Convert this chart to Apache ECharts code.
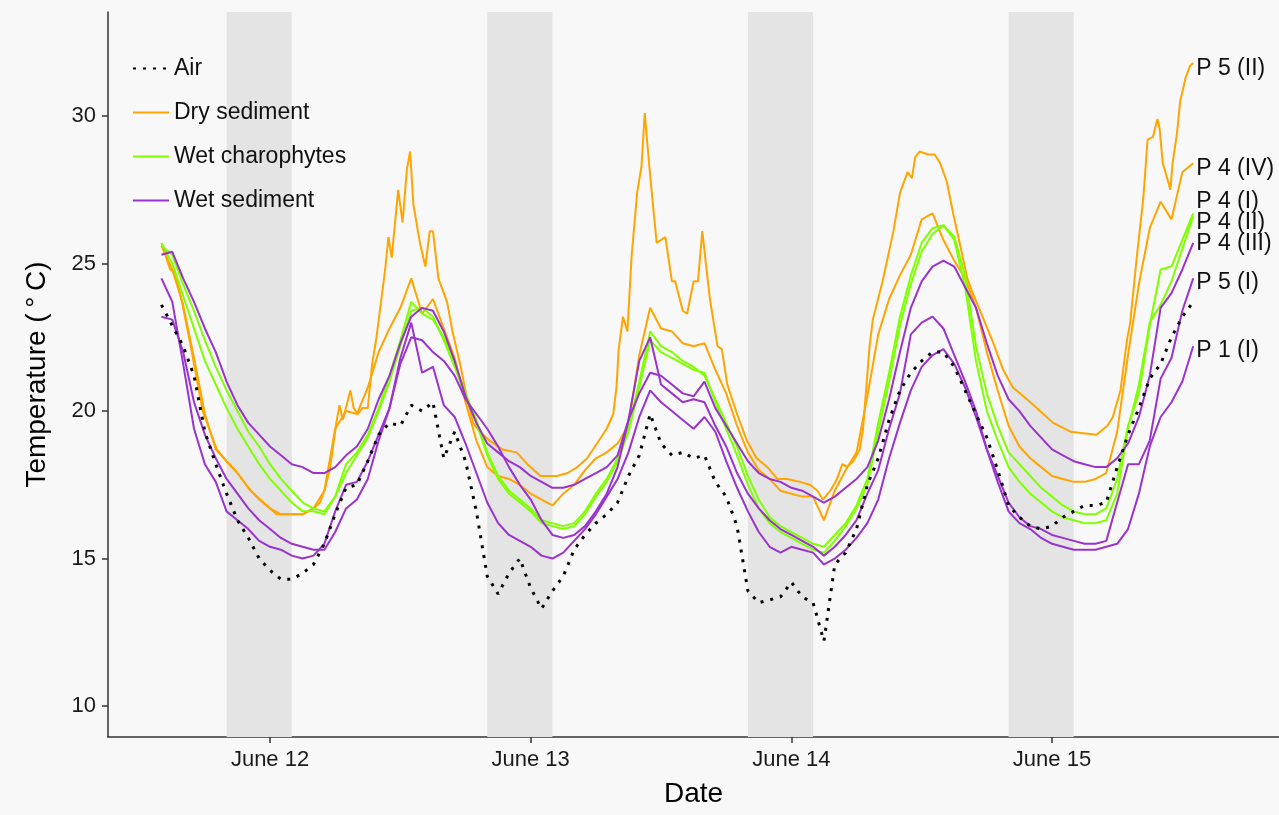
<!DOCTYPE html>
<html>
<head>
<meta charset="utf-8">
<title>Temperature</title>
<script src="https://cdn.jsdelivr.net/npm/echarts@6/dist/echarts.min.js"></script>
<style>
html, body { margin: 0; padding: 0; background: #f8f8f8; }
#chart { width: 1279px; height: 815px; }
</style>
</head>
<body>
<div id="chart"></div>
<script>
// x is in hours counted from June 11 00:00
// loggers start June 11 14:00, one reading per hour
var startHour = 14;
var dayTicks = [24, 48, 72, 96];
var dayLabels = ['June 12', 'June 13', 'June 14', 'June 15'];
var tempTicks = [10, 15, 20, 25, 30];
var nights = [[20, 26], [44, 50], [68, 74], [92, 98]];

var air = [23.6,22.9,22.2,21.2,19.3,18.2,17.2,16.3,15.7,15.0,
	14.6,14.3,14.3,14.5,14.8,15.5,16.5,17.4,17.5,18.3,
	19.2,19.6,19.5,20.2,20.0,20.3,18.4,19.3,18.3,16.6,
	14.4,13.8,14.5,15.0,14.0,13.3,13.9,14.4,15.3,15.8,
	16.2,16.5,16.9,17.8,18.5,19.9,18.9,18.5,18.6,18.4,
	18.5,17.6,17.1,16.1,13.9,13.5,13.6,13.7,14.2,13.7,
	13.5,12.2,14.8,15.2,16.0,17.5,18.4,19.7,20.7,21.3,
	21.7,22.0,22.0,21.5,20.7,19.9,19.1,18.0,16.8,16.4,
	16.1,16.0,16.1,16.4,16.6,16.8,16.8,16.9,18.1,19.2,
	20.1,21.1,21.6,22.5,23.2,23.7];

// P 5 (II) is spiky, so it keeps its own reading times (hours after June 11 14:00)
var p5IIHours = [0,0.8,1.25,1.9,2.8,3.8,4.5,5.1,6,7,
	8.2,9.4,10.6,13,14,14.6,15,15.5,16.1,16.4,
	16.7,17.4,17.7,18.1,18.5,19,19.4,19.8,20.6,20.9,
	21.2,21.8,22.2,22.6,22.9,23.2,23.8,24.3,24.7,25,
	25.5,26.3,26.8,27.5,28.1,28.7,29.3,30.2,31.4,32.7,
	33.7,34.9,36.4,37.4,38.3,39.2,40.1,41,41.6,41.9,
	42.1,42.5,42.9,43.3,43.8,44.2,44.5,44.8,45.2,45.6,
	46.4,47,47.3,48,48.4,49,49.4,49.8,50.1,50.5,
	51.2,51.6,52.1,53,53.9,54.8,55.8,56.7,57.6,58.8,
	59.7,60.4,60.9,61.6,62.2,62.7,63.1,63.7,64.3,64.6,
	65.2,65.5,66.4,67.4,68,68.7,69.1,69.4,69.8,70.6,
	71.2,71.7,72.3,72.9,73.5,74.2,74.7,75.6,76.6,77.5,
	78.4,79.7,80.9,82.1,83.7,86.1,87.1,87.6,88.3,88.9,
	89.2,89.8,90.4,90.8,91.3,91.7,91.9,92.2,92.6,92.9,
	93.1,93.5,93.8,94.3,94.7,95];
var p5II = [25.7,24.8,24.7,23.7,22.0,20.0,19.3,18.7,18.3,17.9,
	17.3,16.9,16.5,16.5,16.7,16.9,17.3,18.0,19.6,20.2,
	19.7,20.7,20.1,19.9,20.1,20.1,21.6,22.5,24.8,25.9,
	25.2,27.5,26.4,28.2,28.8,27.0,25.7,24.9,26.1,26.1,
	24.5,23.7,22.7,21.6,20.5,19.6,19.3,19.0,18.7,18.6,
	18.2,17.8,17.8,17.9,18.1,18.4,18.9,19.4,19.9,20.8,
	22.1,23.2,22.7,25.3,27.4,28.3,30.1,28.8,27.2,25.7,
	25.9,24.4,24.4,23.4,23.3,24.4,24.4,26.1,25.1,23.8,
	22.2,22.1,20.9,19.9,19.0,18.4,18.1,17.7,17.7,17.6,
	17.5,17.3,17.0,17.3,17.7,18.2,18.1,18.3,18.7,19.4,
	22.2,23.1,24.4,26.1,27.4,28.1,27.9,28.6,28.8,28.7,
	28.7,28.4,27.8,26.7,25.7,24.5,24.0,23.2,22.3,21.4,
	20.8,20.4,20.0,19.6,19.3,19.2,19.5,19.8,20.7,22.4,
	23.0,25.2,27.2,29.2,29.3,29.9,29.6,28.4,27.9,27.5,
	28.4,29.4,30.5,31.3,31.7,31.8];

var p4IV = [25.6,24.8,23.6,21.8,19.9,18.7,18.3,17.9,17.4,17.0,
	16.7,16.5,16.5,16.5,16.7,17.3,19.4,20.0,19.9,20.8,
	22.0,22.8,23.5,24.5,23.3,23.8,22.8,21.8,20.3,19.0,
	18.1,17.8,17.7,17.5,17.2,17.0,16.8,17.2,17.5,18.0,
	18.4,18.6,18.9,19.5,21.9,23.5,22.8,22.7,22.3,22.2,
	22.3,21.4,20.6,19.5,18.6,18.0,17.7,17.3,17.2,17.1,
	17.1,16.3,17.3,18.0,18.6,20.5,22.6,23.8,24.6,25.3,
	26.5,26.7,25.8,25.1,24.5,23.5,22.0,20.7,19.5,18.8,
	18.4,18.1,17.8,17.7,17.6,17.6,17.7,17.9,19.3,21.9,
	24.3,26.2,27.1,26.5,28.1,28.4];

var p4I = [25.6,25.3,24.3,23.4,22.4,21.5,20.7,20.0,19.3,18.8,
	18.2,17.7,17.3,16.9,16.7,16.6,17.1,18.2,18.6,19.2,
	20.1,21.2,22.4,23.7,23.3,23.1,22.5,21.6,20.6,19.7,
	18.6,17.8,17.3,17.0,16.7,16.3,16.2,16.1,16.2,16.6,
	17.2,17.7,18.4,19.4,21.0,22.7,22.2,22.0,21.7,21.5,
	21.2,20.4,19.6,18.8,17.8,17.0,16.4,16.1,15.9,15.7,
	15.5,15.4,15.8,16.2,16.8,17.7,19.6,21.3,23.2,24.6,
	25.7,26.2,26.3,25.9,24.6,22.2,20.6,19.5,18.6,18.2,
	17.8,17.4,17.1,16.8,16.6,16.5,16.5,16.7,17.7,19.5,
	20.6,22.9,24.8,24.9,25.8,26.7];

var p4II = [25.7,25.0,23.9,22.8,21.7,20.9,20.1,19.4,18.8,18.2,
	17.7,17.3,16.9,16.6,16.6,16.5,17.1,17.9,18.5,19.1,
	20.0,21.0,22.2,23.4,23.5,23.2,22.4,21.5,20.5,19.6,
	18.5,17.7,17.2,16.9,16.6,16.2,16.1,16.0,16.1,16.5,
	17.1,17.6,18.3,19.3,20.8,22.4,22.0,21.8,21.6,21.4,
	21.3,20.3,19.4,18.5,17.5,16.7,16.2,15.9,15.7,15.5,
	15.3,15.2,15.6,16.1,16.7,17.5,19.3,21.0,22.9,24.3,
	25.4,26.0,26.3,25.8,24.2,21.7,20.0,19.0,18.1,17.6,
	17.2,16.9,16.6,16.4,16.3,16.2,16.2,16.3,17.2,19.4,
	20.9,23.0,23.6,24.4,25.5,26.6];

var p4III = [25.3,25.4,24.5,23.7,22.8,22.0,21.0,20.2,19.6,19.2,
	18.8,18.5,18.2,18.1,17.9,17.9,18.1,18.5,18.8,19.4,
	20.4,21.2,22.3,23.2,23.5,23.4,22.7,21.7,20.5,19.6,
	18.9,18.6,18.3,18.1,17.8,17.6,17.4,17.4,17.5,17.7,
	17.9,18.1,18.5,19.7,20.6,21.3,21.2,20.9,20.6,20.5,
	21.0,20.1,19.5,18.9,18.3,17.9,17.7,17.6,17.4,17.3,
	17.1,16.9,17.1,17.4,17.7,18.1,19.0,20.4,22.0,23.5,
	24.4,24.9,25.1,24.9,24.2,23.5,22.3,21.2,20.4,20.0,
	19.5,19.1,18.7,18.5,18.3,18.2,18.1,18.1,18.4,18.9,
	19.8,21.2,23.5,24.0,24.8,25.7];

var p5I = [23.2,23.1,22.0,20.3,19.2,18.4,17.7,17.2,16.7,16.3,
	16.0,15.7,15.5,15.4,15.3,15.3,15.9,16.7,17.0,17.7,
	19.0,20.1,21.6,22.5,22.4,22.0,21.7,21.2,20.4,19.9,
	19.4,18.8,18.1,17.5,17.0,16.3,15.8,15.7,15.8,16.1,
	16.6,17.2,18.1,19.7,21.7,22.5,20.9,20.6,20.3,20.4,
	20.3,19.5,18.8,17.9,17.2,16.7,16.3,16.0,15.8,15.6,
	15.4,15.1,15.4,15.8,16.3,17.2,18.0,19.4,20.6,22.6,
	23.0,23.2,22.8,21.9,21.0,20.0,18.7,17.8,16.9,16.4,
	16.1,16.0,15.8,15.7,15.6,15.5,15.5,15.6,16.9,18.2,
	18.2,19.0,21.1,21.8,23.4,24.5];

var p1I = [24.5,23.7,21.6,19.4,18.2,17.6,16.6,16.3,16.0,15.6,
	15.4,15.3,15.1,15.0,15.1,15.5,16.6,17.5,17.6,18.3,
	19.2,20.1,21.8,23.0,21.3,21.5,20.2,19.8,18.9,17.9,
	16.9,16.2,15.8,15.6,15.4,15.1,15.0,15.2,15.6,16.0,
	16.5,17.1,17.7,18.6,19.8,20.7,20.3,20.0,19.7,19.4,
	19.8,19.3,18.3,17.4,16.6,15.9,15.4,15.2,15.4,15.3,
	15.2,14.8,15.0,15.3,15.7,16.2,17.0,18.4,19.6,20.7,
	21.5,21.9,22.1,21.6,20.8,19.8,18.7,17.6,16.6,16.2,
	16.0,15.7,15.5,15.4,15.3,15.3,15.3,15.4,15.5,16.0,
	17.2,18.8,19.8,20.3,21.0,22.2];

var font = 'Liberation Sans, Arial, sans-serif';

function hourly(values) {
	return values.map(function (v, i) { return [startHour + i, v]; });
}

function paired(hours, values) {
	return values.map(function (v, i) { return [startHour + hours[i], v]; });
}

function logger(name, color, data, tag, dy) {
	return {
		name: name,
		type: 'line',
		z: 2,
		data: data,
		showSymbol: false,
		symbol: 'none',
		lineStyle: { color: color, width: 2 },
		itemStyle: { color: color },
		endLabel: {
			show: true,
			formatter: tag,
			color: '#111',
			fontSize: 23,
			fontFamily: font,
			distance: 3,
			offset: [0, dy]
		}
	};
}

var myChart = echarts.init(document.getElementById('chart'));
var option = {
	animation: false,
	backgroundColor: '#f8f8f8',
	grid: {
		left: 108,
		right: 0,
		top: 12,
		bottom: 78
	},
	legend: {
		orient: 'vertical',
		left: 127,
		top: 52,
		itemWidth: 36,
		itemHeight: 14,
		itemGap: 21,
		data: ['Air', 'Dry sediment', 'Wet charophytes', 'Wet sediment'],
		// hide the round marker, keep only the line sample
		itemStyle: { opacity: 0, borderWidth: 0 },
		textStyle: {
			fontSize: 23,
			lineHeight: 23,
			fontFamily: font,
			color: '#111'
		}
	},
	xAxis: {
		type: 'value',
		min: 9.08,
		max: 116.9,
		name: 'Date',
		nameLocation: 'middle',
		nameGap: 43,
		nameTextStyle: { fontSize: 28, fontFamily: font, color: '#000' },
		axisLine: { show: true, onZero: false, lineStyle: { color: '#333', width: 1.5 } },
		axisTick: { show: true, length: 6, customValues: dayTicks, lineStyle: { color: '#333', width: 1.5 } },
		axisLabel: {
			customValues: dayTicks,
			fontSize: 22,
			fontFamily: font,
			color: '#1a1a1a',
			margin: 12,
			formatter: function (v) {
				return dayLabels[dayTicks.indexOf(v)];
			}
		},
		splitLine: { show: false }
	},
	yAxis: {
		type: 'value',
		min: 8.95,
		max: 33.53,
		name: 'Temperature (\u2009°\u2009C)',
		nameLocation: 'middle',
		nameGap: 57,
		nameTextStyle: { fontSize: 28, fontFamily: font, color: '#000' },
		axisLine: { show: true, lineStyle: { color: '#333', width: 1.5 } },
		axisTick: { show: true, length: 6, customValues: tempTicks, lineStyle: { color: '#333', width: 1.5 } },
		axisLabel: {
			customValues: tempTicks,
			fontSize: 22,
			fontFamily: font,
			color: '#1a1a1a',
			margin: 12
		},
		splitLine: { show: false }
	},
	series: [
		{
			// night bands
			type: 'line',
			z: 1,
			silent: true,
			data: [],
			markArea: {
				silent: true,
				itemStyle: { color: '#e4e4e4' },
				data: nights.map(function (n) {
					return [{ xAxis: n[0] }, { xAxis: n[1] }];
				})
			}
		},
		logger('Dry sediment', '#FFA500', paired(p5IIHours, p5II), 'P 5 (II)', 6),
		logger('Dry sediment', '#FFA500', hourly(p4IV), 'P 4 (IV)', 5),
		logger('Wet charophytes', '#7FFF00', hourly(p4I), 'P 4 (I)', -12),
		logger('Wet charophytes', '#7FFF00', hourly(p4II), 'P 4 (II)', 6),
		logger('Wet sediment', '#9A32CD', hourly(p4III), 'P 4 (III)', 1),
		logger('Wet sediment', '#9A32CD', hourly(p5I), 'P 5 (I)', 4),
		logger('Wet sediment', '#9A32CD', hourly(p1I), 'P 1 (I)', 4),
		{
			name: 'Air',
			type: 'line',
			z: 3,
			data: hourly(air),
			showSymbol: false,
			symbol: 'none',
			lineStyle: { color: '#000', width: 3, type: [3, 7] },
			itemStyle: { color: '#000' }
		}
	]
};
myChart.setOption(option);

window.addEventListener('resize', function () {
	myChart.resize();
});
</script>
</body>
</html>
